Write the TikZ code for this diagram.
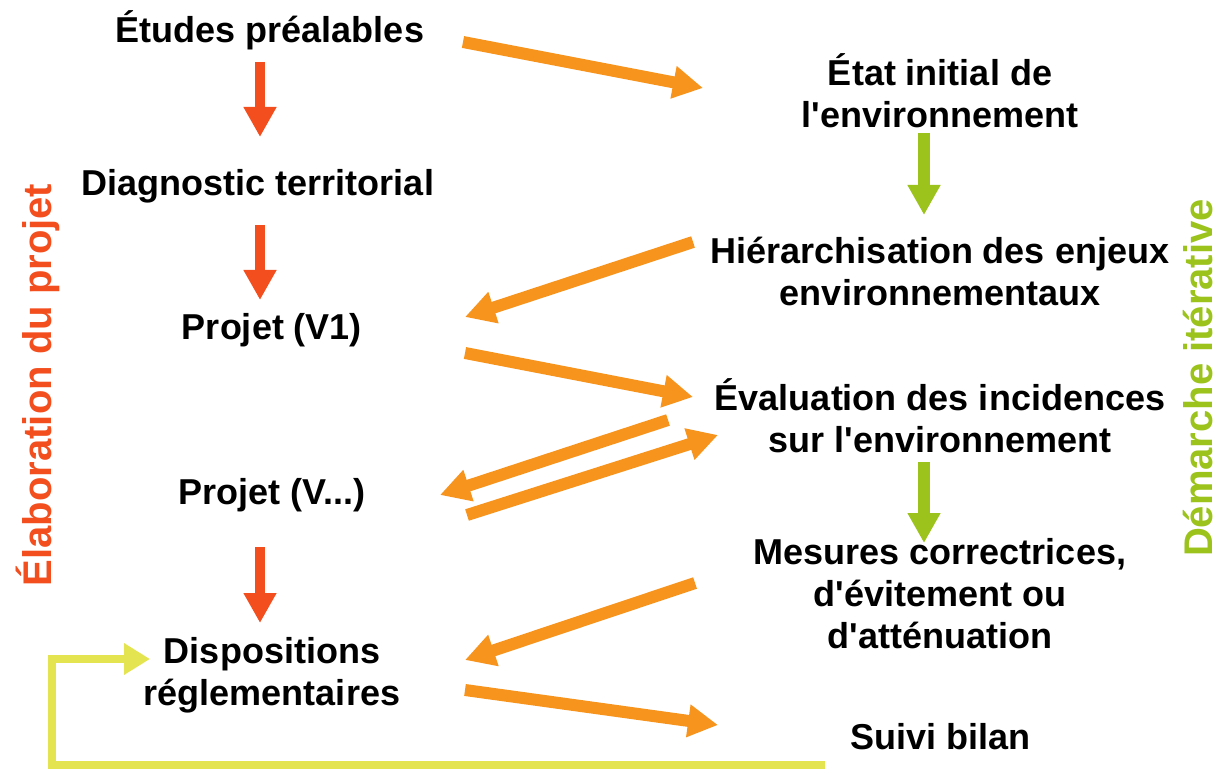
\documentclass[tikz,border=0pt]{standalone}
\usepackage{fontspec}
\setmainfont{Liberation Sans}
\usepackage{tikz}
\usetikzlibrary{arrows.meta, positioning, calc}
\definecolor{rouge}{RGB}{242,78,30}
\definecolor{orange}{RGB}{247,148,30}
\definecolor{vert}{RGB}{155,195,27}
\definecolor{jaune}{RGB}{228,228,80}
\newcommand{\apos}{\textquotesingle}

\begin{document}
\begin{tikzpicture}[
		x=0.5pt, y=-0.5pt,
		etape/.style={align=center, font=\fontsize{18}{21}\selectfont\bfseries, inner sep=0pt},
		cote/.style={rotate=90, font=\fontsize{20}{24}\selectfont\bfseries, inner sep=0pt},
		fleche rouge/.style={-{Triangle[length=15pt, width=15.5pt]}, line width=5pt, draw=rouge},
		fleche verte/.style={-{Triangle[length=15pt, width=15.5pt]}, line width=6pt, draw=vert},
		fleche orange/.style={-{Triangle[length=15pt, width=15.5pt]}, line width=6pt, draw=orange},
		fleche jaune/.style={-{Triangle[length=13pt, width=15pt]}, line width=4pt, draw=jaune},
	]
		\useasboundingbox (0,0) rectangle (1218,774);

		%Nodes
		\node[etape] (etudes) at (270,30) {Études préalables};
		\node[etape] (diagnostic) at (258,186) {Diagnostic territorial};
		\node[etape] (projetun) at (272,330) {Projet (V1)};
		\node[etape] (projetv) at (272,495) {Projet (V...)};
		\node[etape] (dispositions) at (272,675) {Dispositions\\réglementaires};

		\node[etape] (etat) at (940,91) {État initial de\\l\apos environnement};
		\node[etape] (hierarchie) at (940,271) {Hiérarchisation des enjeux\\environnementaux};
		\node[etape] (evaluation) at (940,416) {Évaluation des incidences\\sur l\apos environnement};
		\node[etape] (mesures) at (940,594) {Mesures correctrices,\\d\apos évitement ou\\d\apos atténuation};
		\node[etape] (suivi) at (940,737) {Suivi bilan};

		\node[cote, text=rouge] (elaboration) at (38,385) {Élaboration du projet};
		\node[cote, text=vert] (demarche) at (1198,378) {Démarche itérative};

		%Lines
		\draw[fleche rouge] ($(etudes) + (-10,32)$) -- ($(diagnostic) + (2,-49)$);
		\draw[fleche rouge] ($(diagnostic) + (2,39)$) -- ($(projetun) + (-12,-30)$);
		\draw[fleche rouge] ($(projetv) + (-12,52)$) -- ($(dispositions) + (-12,-52)$);

		\draw[fleche verte] ($(etat) + (-16,42)$) -- ($(hierarchie) + (-16,-56)$);
		\draw[fleche verte] ($(evaluation) + (-16,46)$) -- ($(mesures) + (-16,-51)$);

		\draw[fleche orange] ($(etudes) + (193,12)$) -- ($(etat) + (-237,-3)$);
		\draw[fleche orange] ($(hierarchie) + (-247,-29)$) -- ($(projetun) + (193,-13)$);
		\draw[fleche orange] ($(projetun) + (193,23)$) -- ($(evaluation) + (-247,-19)$);
		\draw[fleche orange] ($(evaluation) + (-272,4)$) -- ($(projetv) + (168,0)$);
		\draw[fleche orange] ($(projetv) + (195,20)$) -- ($(evaluation) + (-222,19)$);
		\draw[fleche orange] ($(mesures) + (-245,-11)$) -- ($(dispositions) + (193,-15)$);
		\draw[fleche orange] ($(dispositions) + (193,15)$) -- ($(suivi) + (-222,-12)$);

		\draw[fleche jaune] ($(suivi) + (-115,28)$) -| ($(dispositions) + (-220,-16)$) -- ($(dispositions) + (-122,-16)$);
	\end{tikzpicture}
\end{document}
